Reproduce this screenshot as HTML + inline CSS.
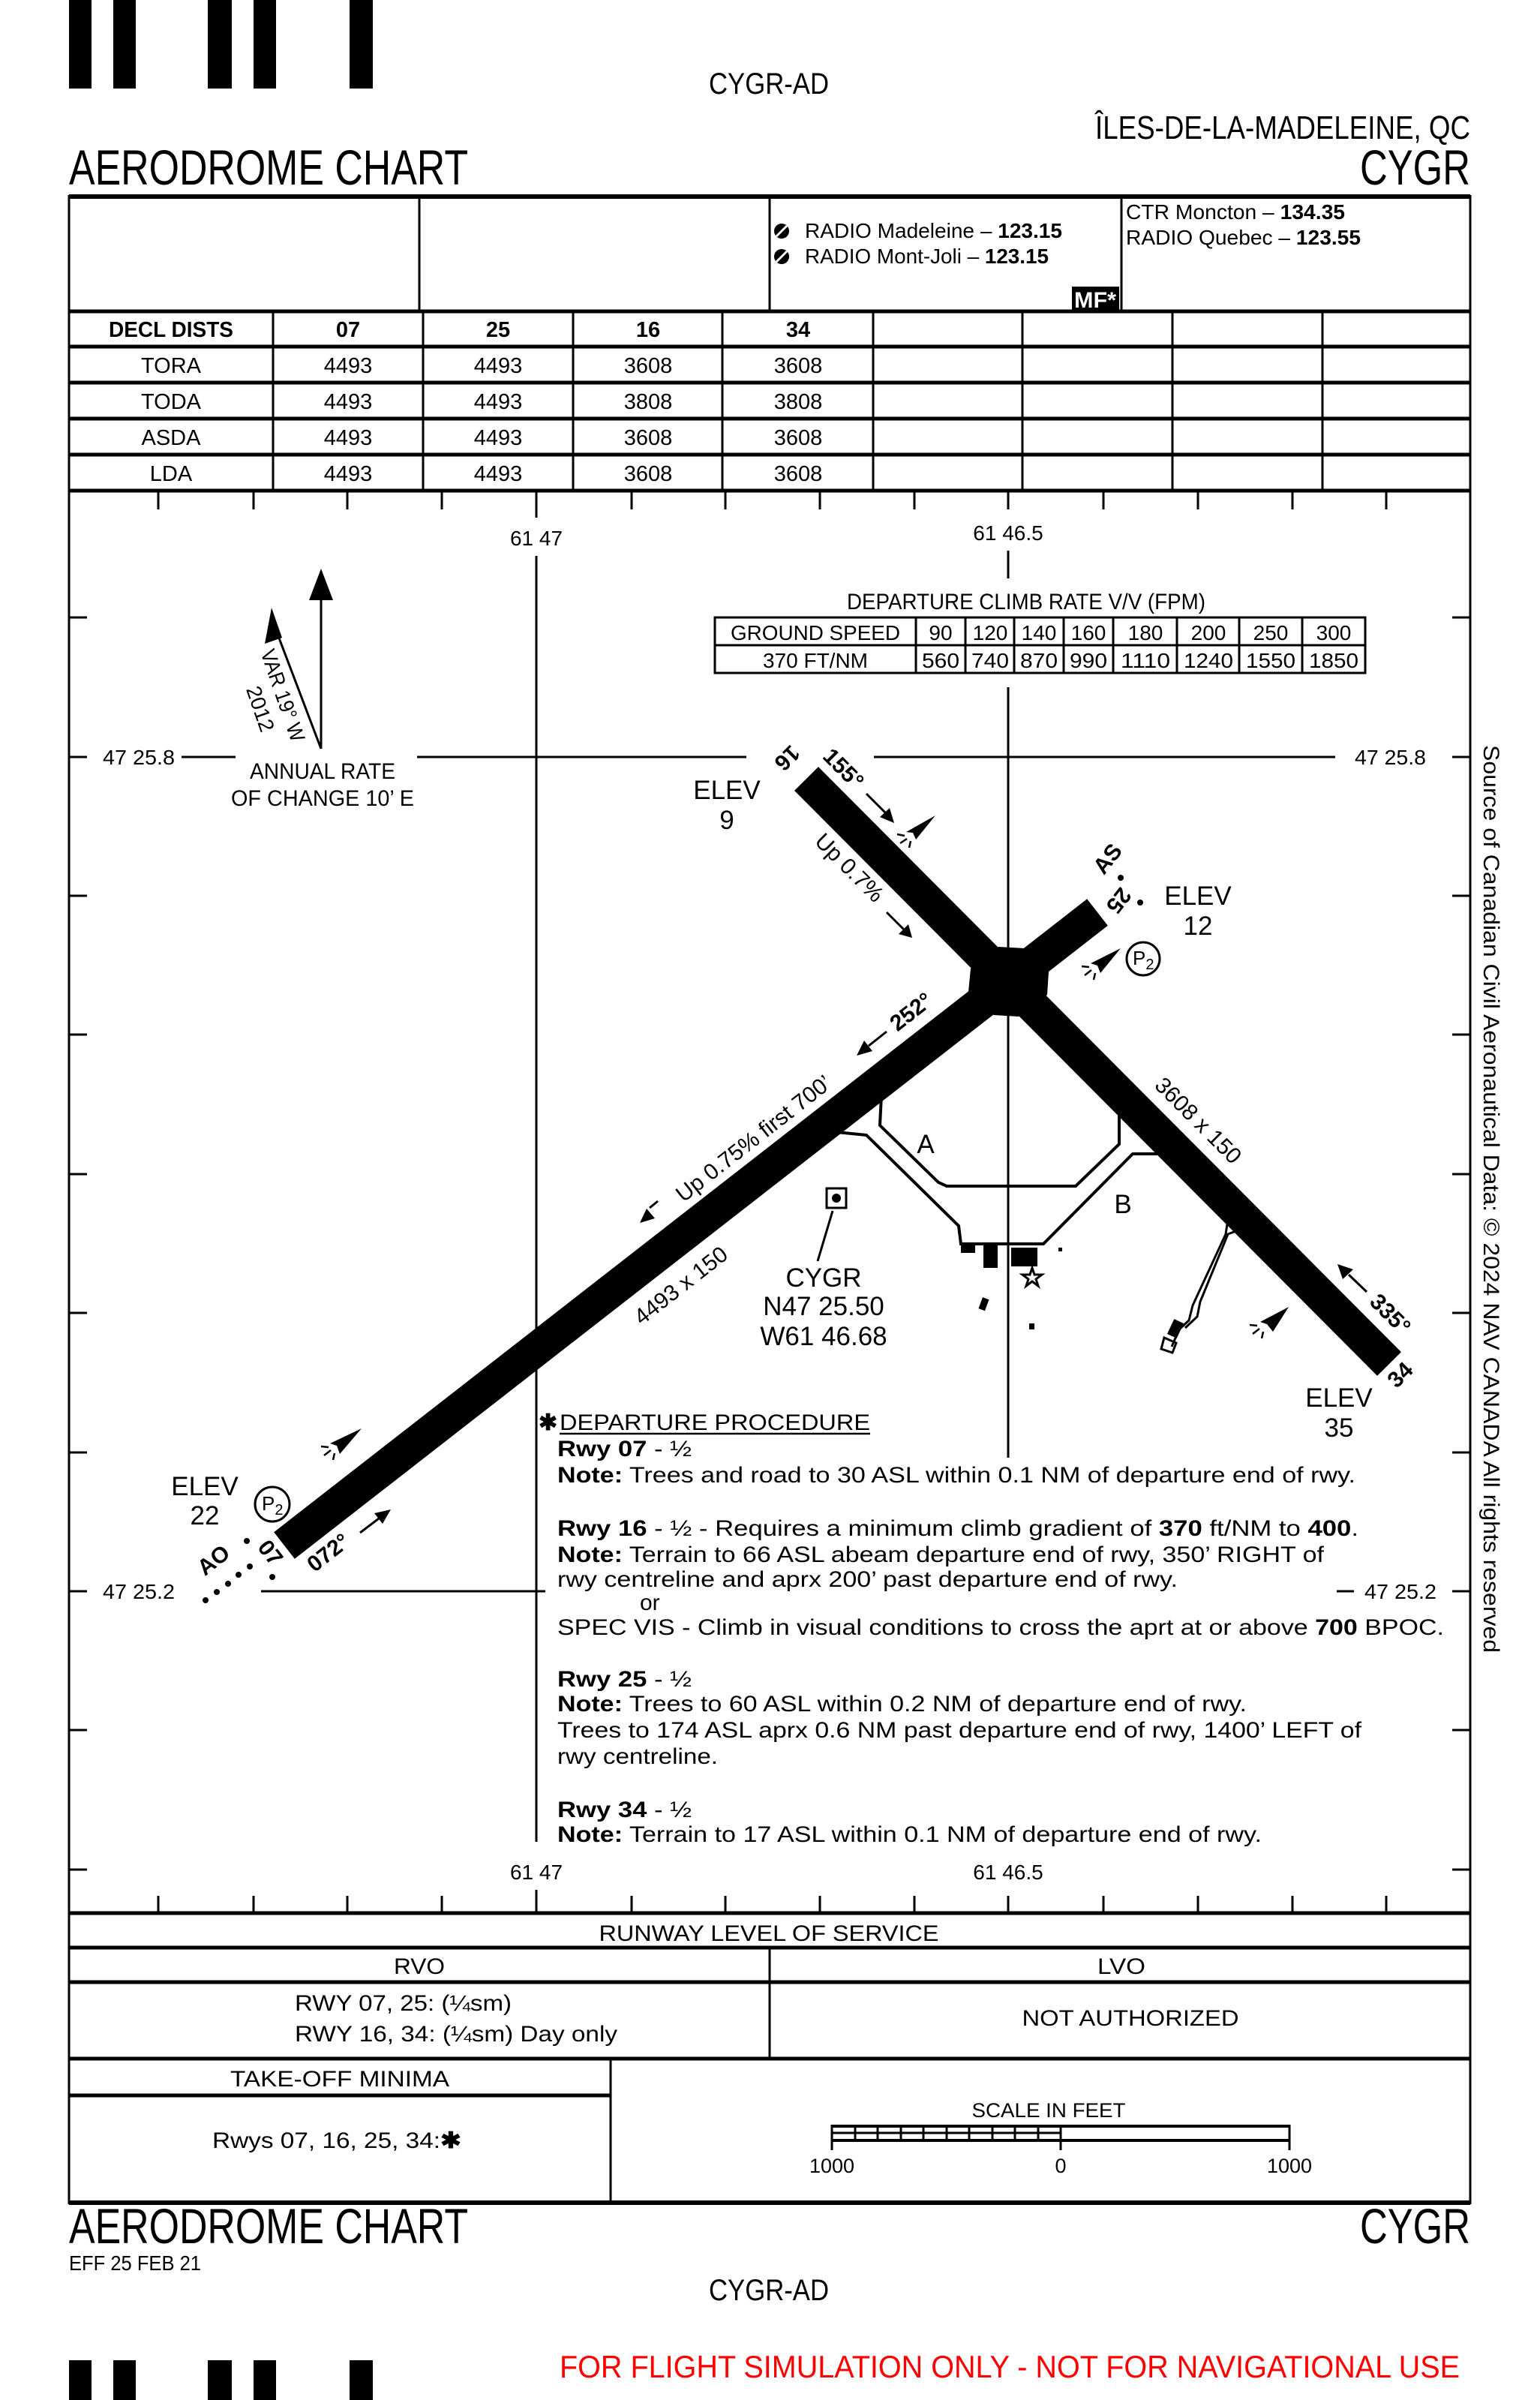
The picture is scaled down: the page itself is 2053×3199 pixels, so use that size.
<!DOCTYPE html>
<html><head><meta charset="utf-8"><style>
html,body{margin:0;padding:0;background:#fff}
svg{display:block}
text{font-family:"Liberation Sans",sans-serif;fill:#000}
.b{font-weight:bold}
</style></head><body>
<svg width="2053" height="3199" viewBox="0 0 2053 3199" xmlns="http://www.w3.org/2000/svg">
<rect width="2053" height="3199" fill="#fff"/>
<g fill="#000">
<rect x="92" y="0" width="30" height="118"/><rect x="151" y="0" width="30" height="118"/>
<rect x="277" y="0" width="32" height="118"/><rect x="338" y="0" width="30" height="118"/>
<rect x="466" y="0" width="31" height="118"/>
<rect x="92" y="3146" width="30" height="53"/><rect x="151" y="3146" width="30" height="53"/>
<rect x="277" y="3146" width="32" height="53"/><rect x="338" y="3146" width="30" height="53"/>
<rect x="466" y="3146" width="31" height="53"/>
</g>
<text x="1025" y="125" font-size="40" text-anchor="middle" textLength="160" lengthAdjust="spacingAndGlyphs">CYGR-AD</text>
<text x="1460" y="185" font-size="44" textLength="500" lengthAdjust="spacingAndGlyphs">ÎLES-DE-LA-MADELEINE, QC</text>
<text x="92" y="246" font-size="66" textLength="532" lengthAdjust="spacingAndGlyphs">AERODROME CHART</text>
<text x="1813" y="246" font-size="66" textLength="147" lengthAdjust="spacingAndGlyphs">CYGR</text>

<g stroke="#000" fill="none">
<line x1="92" y1="262" x2="1960" y2="262" stroke-width="6"/>
<line x1="92" y1="260" x2="92" y2="2938" stroke-width="3"/>
<line x1="1960" y1="260" x2="1960" y2="2938" stroke-width="3"/>
<line x1="559" y1="262" x2="559" y2="414" stroke-width="3"/>
<line x1="1026" y1="262" x2="1026" y2="414" stroke-width="3"/>
<line x1="1495" y1="262" x2="1495" y2="414" stroke-width="3"/>
<line x1="92" y1="415" x2="1960" y2="415" stroke-width="5"/>
<line x1="92" y1="462" x2="1960" y2="462" stroke-width="5"/>
<line x1="92" y1="510" x2="1960" y2="510" stroke-width="5"/>
<line x1="92" y1="558" x2="1960" y2="558" stroke-width="5"/>
<line x1="92" y1="606" x2="1960" y2="606" stroke-width="5"/>
<line x1="92" y1="654" x2="1960" y2="654" stroke-width="5"/>
<g stroke-width="3">
<line x1="364" y1="415" x2="364" y2="654"/><line x1="564" y1="415" x2="564" y2="654"/>
<line x1="764" y1="415" x2="764" y2="654"/><line x1="963" y1="415" x2="963" y2="654"/>
<line x1="1164" y1="415" x2="1164" y2="654"/><line x1="1363" y1="415" x2="1363" y2="654"/>
<line x1="1563" y1="415" x2="1563" y2="654"/><line x1="1763" y1="415" x2="1763" y2="654"/>
</g>
</g>
<g font-size="28">
<circle cx="1042" cy="308" r="10" fill="#000"/><path d="M1035,315 L1049,301" stroke="#fff" stroke-width="3"/>
<circle cx="1042" cy="342" r="10" fill="#000"/><path d="M1035,349 L1049,335" stroke="#fff" stroke-width="3"/>
<text x="1073" y="317" textLength="343" lengthAdjust="spacingAndGlyphs">RADIO Madeleine – <tspan class="b">123.15</tspan></text>
<text x="1073" y="351" textLength="325" lengthAdjust="spacingAndGlyphs">RADIO Mont-Joli – <tspan class="b">123.15</tspan></text>
<text x="1501" y="292" textLength="292" lengthAdjust="spacingAndGlyphs">CTR Moncton – <tspan class="b">134.35</tspan></text>
<text x="1501" y="326" textLength="313" lengthAdjust="spacingAndGlyphs">RADIO Quebec – <tspan class="b">123.55</tspan></text>
</g>
<rect x="1429" y="382" width="63" height="32" fill="#000"/>
<text x="1460" y="410" font-size="30" class="b" text-anchor="middle" style="fill:#fff" textLength="56" lengthAdjust="spacingAndGlyphs">MF*</text>
<g font-size="29" text-anchor="middle">
<text x="228" y="449" class="b" textLength="166" lengthAdjust="spacingAndGlyphs">DECL DISTS</text>
<text x="464" y="449" class="b">07</text><text x="664" y="449" class="b">25</text>
<text x="864" y="449" class="b">16</text><text x="1064" y="449" class="b">34</text>
<text x="228" y="497">TORA</text><text x="464" y="497">4493</text><text x="664" y="497">4493</text><text x="864" y="497">3608</text><text x="1064" y="497">3608</text>
<text x="228" y="545">TODA</text><text x="464" y="545">4493</text><text x="664" y="545">4493</text><text x="864" y="545">3808</text><text x="1064" y="545">3808</text>
<text x="228" y="593">ASDA</text><text x="464" y="593">4493</text><text x="664" y="593">4493</text><text x="864" y="593">3608</text><text x="1064" y="593">3608</text>
<text x="228" y="641">LDA</text><text x="464" y="641">4493</text><text x="664" y="641">4493</text><text x="864" y="641">3608</text><text x="1064" y="641">3608</text>
</g>

<g stroke="#000" stroke-width="3">
<line x1="211" y1="655" x2="211" y2="679"/><line x1="338" y1="655" x2="338" y2="679"/>
<line x1="463" y1="655" x2="463" y2="679"/><line x1="589" y1="655" x2="589" y2="679"/>
<line x1="715" y1="655" x2="715" y2="690"/><line x1="842" y1="655" x2="842" y2="679"/>
<line x1="967" y1="655" x2="967" y2="679"/><line x1="1093" y1="655" x2="1093" y2="679"/>
<line x1="1219" y1="655" x2="1219" y2="679"/><line x1="1344" y1="655" x2="1344" y2="679"/>
<line x1="1471" y1="655" x2="1471" y2="679"/><line x1="1597" y1="655" x2="1597" y2="679"/>
<line x1="1723" y1="655" x2="1723" y2="679"/><line x1="1848" y1="655" x2="1848" y2="679"/>

<line x1="211" y1="2527" x2="211" y2="2550"/><line x1="338" y1="2527" x2="338" y2="2550"/>
<line x1="463" y1="2527" x2="463" y2="2550"/><line x1="589" y1="2527" x2="589" y2="2550"/>
<line x1="715" y1="2519" x2="715" y2="2550"/><line x1="842" y1="2527" x2="842" y2="2550"/>
<line x1="967" y1="2527" x2="967" y2="2550"/><line x1="1093" y1="2527" x2="1093" y2="2550"/>
<line x1="1219" y1="2527" x2="1219" y2="2550"/><line x1="1344" y1="2527" x2="1344" y2="2550"/>
<line x1="1471" y1="2527" x2="1471" y2="2550"/><line x1="1597" y1="2527" x2="1597" y2="2550"/>
<line x1="1723" y1="2527" x2="1723" y2="2550"/><line x1="1848" y1="2527" x2="1848" y2="2550"/>

<line x1="92" y1="823" x2="116" y2="823"/><line x1="92" y1="1009" x2="116" y2="1009"/>
<line x1="92" y1="1194" x2="116" y2="1194"/><line x1="92" y1="1379" x2="116" y2="1379"/>
<line x1="92" y1="1565" x2="116" y2="1565"/><line x1="92" y1="1750" x2="116" y2="1750"/>
<line x1="92" y1="1936" x2="116" y2="1936"/><line x1="92" y1="2121" x2="116" y2="2121"/>
<line x1="92" y1="2306" x2="116" y2="2306"/><line x1="92" y1="2492" x2="116" y2="2492"/>
<line x1="1936" y1="823" x2="1960" y2="823"/><line x1="1936" y1="1009" x2="1960" y2="1009"/>
<line x1="1936" y1="1194" x2="1960" y2="1194"/><line x1="1936" y1="1379" x2="1960" y2="1379"/>
<line x1="1936" y1="1565" x2="1960" y2="1565"/><line x1="1936" y1="1750" x2="1960" y2="1750"/>
<line x1="1936" y1="1936" x2="1960" y2="1936"/><line x1="1936" y1="2121" x2="1960" y2="2121"/>
<line x1="1936" y1="2306" x2="1960" y2="2306"/><line x1="1936" y1="2492" x2="1960" y2="2492"/>

<line x1="715" y1="741" x2="715" y2="2455"/>
<line x1="1344" y1="734" x2="1344" y2="771"/>
<line x1="1344" y1="916" x2="1344" y2="1943"/>
<line x1="242" y1="1009" x2="314" y2="1009"/>
<line x1="556" y1="1009" x2="995" y2="1009"/>
<line x1="1165" y1="1009" x2="1780" y2="1009"/>
<line x1="348" y1="2121" x2="727" y2="2121"/>
<line x1="1782" y1="2121" x2="1805" y2="2121"/>
</g>
<g font-size="28">
<text x="715" y="727" text-anchor="middle">61 47</text>
<text x="1344" y="720" text-anchor="middle">61 46.5</text>
<text x="715" y="2505" text-anchor="middle">61 47</text>
<text x="1344" y="2505" text-anchor="middle">61 46.5</text>
<text x="137" y="1019" textLength="96" lengthAdjust="spacingAndGlyphs">47 25.8</text>
<text x="1806" y="1019" textLength="95" lengthAdjust="spacingAndGlyphs">47 25.8</text>
<text x="137" y="2131" textLength="96" lengthAdjust="spacingAndGlyphs">47 25.2</text>
<text x="1819" y="2131" textLength="96" lengthAdjust="spacingAndGlyphs">47 25.2</text>
</g>
<text transform="translate(1978,1598) rotate(90)" font-size="30" text-anchor="middle" textLength="1210" lengthAdjust="spacingAndGlyphs">Source of Canadian Civil Aeronautical Data: © 2024 NAV CANADA All rights reserved</text>

<g stroke="#000" stroke-width="3">
<line x1="428" y1="795" x2="428" y2="998"/>
<line x1="428" y1="998" x2="368" y2="840"/>
</g>
<polygon points="428,758 412,800 444,800" fill="#000"/>
<polygon points="362,810 353,858 376,850" fill="#000"/>
<text transform="translate(368,930) rotate(71)" font-size="28" text-anchor="middle" textLength="128" lengthAdjust="spacingAndGlyphs">VAR 19° W</text>
<text transform="translate(338,948) rotate(71)" font-size="28" text-anchor="middle">2012</text>
<text x="430" y="1038" font-size="30" text-anchor="middle" textLength="194" lengthAdjust="spacingAndGlyphs">ANNUAL RATE</text>
<text x="430" y="1074" font-size="30" text-anchor="middle" textLength="244" lengthAdjust="spacingAndGlyphs">OF CHANGE 10’ E</text>

<text x="1368" y="812" font-size="30" text-anchor="middle" textLength="478" lengthAdjust="spacingAndGlyphs">DEPARTURE CLIMB RATE V/V (FPM)</text>
<g stroke="#000" stroke-width="3" fill="none">
<rect x="953" y="823" width="867" height="74"/>
<line x1="953" y1="860" x2="1820" y2="860"/>
<line x1="1221" y1="823" x2="1221" y2="897"/><line x1="1287" y1="823" x2="1287" y2="897"/>
<line x1="1352" y1="823" x2="1352" y2="897"/><line x1="1418" y1="823" x2="1418" y2="897"/>
<line x1="1484" y1="823" x2="1484" y2="897"/><line x1="1569" y1="823" x2="1569" y2="897"/>
<line x1="1652" y1="823" x2="1652" y2="897"/><line x1="1736" y1="823" x2="1736" y2="897"/>
</g>
<g font-size="28" text-anchor="middle">
<text x="1087" y="853" textLength="226" lengthAdjust="spacingAndGlyphs">GROUND SPEED</text>
<text x="1254" y="853">90</text><text x="1320" y="853">120</text><text x="1385" y="853">140</text><text x="1451" y="853">160</text>
<text x="1527" y="853">180</text><text x="1611" y="853">200</text><text x="1694" y="853">250</text><text x="1778" y="853">300</text>
<text x="1087" y="890" textLength="140" lengthAdjust="spacingAndGlyphs">370 FT/NM</text>
<text x="1254" y="890" textLength="50" lengthAdjust="spacingAndGlyphs">560</text><text x="1320" y="890" textLength="50" lengthAdjust="spacingAndGlyphs">740</text><text x="1385" y="890" textLength="50" lengthAdjust="spacingAndGlyphs">870</text><text x="1451" y="890" textLength="50" lengthAdjust="spacingAndGlyphs">990</text>
<text x="1527" y="890" textLength="66" lengthAdjust="spacingAndGlyphs">1110</text><text x="1611" y="890" textLength="66" lengthAdjust="spacingAndGlyphs">1240</text><text x="1694" y="890" textLength="66" lengthAdjust="spacingAndGlyphs">1550</text><text x="1778" y="890" textLength="66" lengthAdjust="spacingAndGlyphs">1850</text>
</g>

<g stroke="#000" stroke-width="4" fill="none" stroke-linejoin="miter">
<polyline points="1175,1460 1173,1500 1251,1576 1262,1581 1434,1581 1492,1525 1492,1485"/>
<polyline points="1115,1509 1155,1513 1278,1634 1281,1658 1391,1658 1510,1538 1550,1538"/>
<polyline points="1637,1625 1634,1645 1590,1740 1585,1760 1572,1772 1562,1795" stroke-width="3"/>
<polyline points="1650,1640 1637,1645 1600,1735 1596,1755 1580,1770" stroke-width="3"/>
<polygon points="1552,1783 1568,1790 1563,1803 1548,1798" stroke-width="3"/>
</g>
<rect x="1560" y="1760" width="14" height="22" fill="#000" transform="rotate(25 1567 1771)"/>
<g stroke="#000" stroke-width="45" stroke-linecap="butt">
<line x1="379" y1="2060" x2="1463" y2="1216"/>
<line x1="1075" y1="1038" x2="1852" y2="1818"/>
</g>
<polygon points="1331,1262 1366,1264 1398,1295 1396,1326 1358,1355 1325,1353 1291,1322 1294,1291" fill="#000"/>
<g fill="#000">
<rect x="1281" y="1657" width="19" height="13"/>
<rect x="1311" y="1659" width="19" height="31"/>
<rect x="1348" y="1663" width="35" height="25"/>
<rect x="1411" y="1663" width="5" height="5"/>
<rect x="1307" y="1730" width="9" height="16" transform="rotate(20 1311 1738)"/>
<rect x="1372" y="1764" width="7" height="8"/>
</g>
<polygon points="1376,1690 1379,1699 1389,1699 1381,1705 1384,1714 1376,1708 1368,1714 1371,1705 1363,1699 1373,1699" fill="#fff" stroke="#000" stroke-width="3"/>
<rect x="1102" y="1584" width="26" height="26" fill="#fff" stroke="#000" stroke-width="3"/>
<circle cx="1115" cy="1597" r="6" fill="#000"/>
<line x1="1110" y1="1614" x2="1090" y2="1681" stroke="#000" stroke-width="3"/>
<g font-size="35" text-anchor="middle">
<text x="1098" y="1715">CYGR</text>
<text x="1098" y="1753">N47 25.50</text>
<text x="1098" y="1793">W61 46.68</text>
<text x="1234" y="1537">A</text>
<text x="1497" y="1617">B</text>
<text x="969" y="1065">ELEV</text><text x="969" y="1105">9</text>
<text x="1597" y="1206">ELEV</text><text x="1597" y="1246">12</text>
<text x="1785" y="1875">ELEV</text><text x="1785" y="1915">35</text>
<text x="273" y="1993">ELEV</text><text x="273" y="2032">22</text>
</g>
<g fill="none" stroke="#000" stroke-width="3"><circle cx="1524" cy="1278" r="22"/><circle cx="363" cy="2005" r="23"/></g>
<text x="1510" y="1286" font-size="26">P<tspan font-size="20" dy="6">2</tspan></text>
<text x="349" y="2013" font-size="26">P<tspan font-size="20" dy="6">2</tspan></text>
<g fill="#000">
<polygon points="1247,1087 1208,1109 1217,1110 1221,1119"/>
<polygon points="1494,1264 1454,1284 1463,1287 1467,1297"/>
<polygon points="482,1904 440,1924 449,1927 453,1938"/>
<polygon points="1718,1742 1680,1762 1689,1765 1697,1775"/>
</g>
<g stroke="#000" stroke-width="2.5">
<path d="M1196,1112 L1206,1114 M1200,1124 L1209,1118 M1212,1130 L1214,1121"/>
<path d="M1442,1288 L1452,1289 M1446,1300 L1455,1293 M1458,1306 L1460,1297"/>
<path d="M428,1928 L438,1929 M432,1940 L441,1933 M444,1946 L446,1937"/>
<path d="M1666,1766 L1676,1767 M1670,1778 L1679,1771 M1682,1784 L1684,1775"/>
</g>
<g stroke="#000" stroke-width="3">
<line x1="1155" y1="1058" x2="1180" y2="1083"/>
<line x1="1182" y1="1216" x2="1205" y2="1239"/>
<line x1="1182" y1="1375" x2="1158" y2="1394"/>
<line x1="877" y1="1601" x2="866" y2="1610"/>
<line x1="480" y1="2043" x2="505" y2="2024"/>
<line x1="1822" y1="1722" x2="1798" y2="1699"/>
</g>
<g fill="#000">
<polygon points="1192,1097 1173,1089 1186,1077"/>
<polygon points="1216,1250 1198,1245 1211,1232"/>
<polygon points="1142,1407 1152,1387 1163,1401"/>
<polygon points="853,1630 862,1611 873,1624"/>
<polygon points="521,2012 499,2017 510,2031"/>
<polygon points="1783,1685 1804,1692 1790,1705"/>
</g>
<g font-size="30" class="b" text-anchor="middle" dominant-baseline="central">
<text class="b" transform="translate(1049,1010) rotate(135)">16</text>
<text class="b" transform="translate(1124,1025) rotate(45)">155°</text>
<text class="b" transform="translate(1867,1833) rotate(-45)">34</text>
<text class="b" transform="translate(1853,1752) rotate(45)">335°</text>
<text class="b" transform="translate(1477,1145) rotate(-52)">AS</text>
<text class="b" transform="translate(1491,1200) rotate(128)">25</text>
<text class="b" transform="translate(1215,1349) rotate(-38)">252°</text>
<text class="b" transform="translate(360,2070) rotate(52)">07</text>
<text class="b" transform="translate(285,2080) rotate(-38)">AO</text>
<text class="b" transform="translate(438,2070) rotate(-38)">072°</text>
</g>
<g fill="#000">
<circle cx="1494" cy="1170" r="4"/><circle cx="1520" cy="1203" r="4"/>
<circle cx="274" cy="2133" r="4"/><circle cx="289" cy="2122" r="4"/><circle cx="304" cy="2111" r="4"/>
<circle cx="318" cy="2099" r="4"/><circle cx="333" cy="2088" r="4"/><circle cx="329" cy="2054" r="4"/><circle cx="363" cy="2102" r="4"/>
</g>
<g font-size="30" text-anchor="middle" dominant-baseline="central">
<text transform="translate(1132,1157) rotate(45)">Up 0.7%</text>
<text transform="translate(1597,1494) rotate(45)">3608 x 150</text>
<text transform="translate(1005,1518) rotate(-38)">Up 0.75% first 700’</text>
<text transform="translate(908,1714) rotate(-38)">4493 x 150</text>
</g>

<g font-size="30">
<text x="718" y="1906" class="b">✱</text>
<text x="746" y="1906" textLength="414" lengthAdjust="spacingAndGlyphs">DEPARTURE PROCEDURE</text>
<line x1="746" y1="1911" x2="1160" y2="1911" stroke="#000" stroke-width="2.5"/>
<text x="743" y="1941" textLength="179" lengthAdjust="spacingAndGlyphs"><tspan class="b">Rwy 07</tspan> - ½</text>
<text x="743" y="1976" textLength="1064" lengthAdjust="spacingAndGlyphs"><tspan class="b">Note:</tspan> Trees and road to 30 ASL within 0.1 NM of departure end of rwy.</text>
<text x="743" y="2047" textLength="1068" lengthAdjust="spacingAndGlyphs"><tspan class="b">Rwy 16</tspan> - ½ - Requires a minimum climb gradient of <tspan class="b">370</tspan> ft/NM to  <tspan class="b">400</tspan>.</text>
<text x="743" y="2082" textLength="1022" lengthAdjust="spacingAndGlyphs"><tspan class="b">Note:</tspan> Terrain to 66 ASL abeam departure end of rwy, 350’ RIGHT of</text>
<text x="743" y="2115" textLength="827" lengthAdjust="spacingAndGlyphs">rwy centreline and aprx 200’ past departure end of rwy.</text>
<text x="853" y="2146">or</text>
<text x="743" y="2179" textLength="1182" lengthAdjust="spacingAndGlyphs">SPEC VIS - Climb in visual conditions to cross the aprt at or above  <tspan class="b">700</tspan> BPOC.</text>
<text x="743" y="2248" textLength="179" lengthAdjust="spacingAndGlyphs"><tspan class="b">Rwy 25</tspan> - ½</text>
<text x="743" y="2281" textLength="919" lengthAdjust="spacingAndGlyphs"><tspan class="b">Note:</tspan> Trees to 60 ASL within 0.2 NM of departure end of rwy.</text>
<text x="743" y="2316" textLength="1072" lengthAdjust="spacingAndGlyphs">Trees to 174 ASL aprx 0.6 NM past departure end of rwy, 1400’ LEFT of</text>
<text x="743" y="2351" textLength="214" lengthAdjust="spacingAndGlyphs">rwy centreline.</text>
<text x="743" y="2422" textLength="179" lengthAdjust="spacingAndGlyphs"><tspan class="b">Rwy 34</tspan> - ½</text>
<text x="743" y="2455" textLength="939" lengthAdjust="spacingAndGlyphs"><tspan class="b">Note:</tspan> Terrain to 17 ASL within 0.1 NM of departure end of rwy.</text>
</g>

<g stroke="#000" fill="none">
<line x1="92" y1="2550" x2="1960" y2="2550" stroke-width="5"/>
<line x1="92" y1="2596" x2="1960" y2="2596" stroke-width="5"/>
<line x1="92" y1="2642" x2="1960" y2="2642" stroke-width="5"/>
<line x1="1026" y1="2596" x2="1026" y2="2744" stroke-width="3"/>
<line x1="92" y1="2744" x2="1960" y2="2744" stroke-width="5"/>
<line x1="92" y1="2793" x2="814" y2="2793" stroke-width="5"/>
<line x1="814" y1="2744" x2="814" y2="2936" stroke-width="3"/>
<line x1="92" y1="2936" x2="1960" y2="2936" stroke-width="6"/>
</g>
<g font-size="30" text-anchor="middle">
<text x="1025" y="2587" textLength="453" lengthAdjust="spacingAndGlyphs">RUNWAY LEVEL OF SERVICE</text>
<text x="559" y="2631" textLength="68" lengthAdjust="spacingAndGlyphs">RVO</text>
<text x="1495" y="2631" textLength="64" lengthAdjust="spacingAndGlyphs">LVO</text>
<text x="1507" y="2700" textLength="289" lengthAdjust="spacingAndGlyphs">NOT AUTHORIZED</text>
<text x="453" y="2781" textLength="292" lengthAdjust="spacingAndGlyphs">TAKE-OFF MINIMA</text>
<text x="1398" y="2822" font-size="27" textLength="205" lengthAdjust="spacingAndGlyphs">SCALE IN FEET</text>
<text x="1109" y="2896" font-size="27">1000</text>
<text x="1414" y="2896" font-size="27">0</text>
<text x="1719" y="2896" font-size="27">1000</text>
</g>
<g font-size="30">
<text x="393" y="2680" textLength="289" lengthAdjust="spacingAndGlyphs">RWY 07, 25: (¼sm)</text>
<text x="393" y="2721" textLength="430" lengthAdjust="spacingAndGlyphs">RWY 16, 34: (¼sm) Day only</text>
<text x="283" y="2863" textLength="332" lengthAdjust="spacingAndGlyphs">Rwys 07, 16, 25, 34:<tspan class="b">✱</tspan></text>
</g>
<g stroke="#000" fill="none">
<line x1="1109" y1="2834" x2="1719" y2="2834" stroke-width="4"/>
<line x1="1109" y1="2853" x2="1719" y2="2853" stroke-width="4"/>
<line x1="1109" y1="2832" x2="1109" y2="2866" stroke-width="3"/>
<line x1="1414" y1="2832" x2="1414" y2="2866" stroke-width="3"/>
<line x1="1719" y1="2832" x2="1719" y2="2866" stroke-width="3"/>
<line x1="1109" y1="2843" x2="1414" y2="2843" stroke-width="3"/>
<g stroke-width="3">
<line x1="1140" y1="2834" x2="1140" y2="2853"/><line x1="1170" y1="2834" x2="1170" y2="2853"/>
<line x1="1201" y1="2834" x2="1201" y2="2853"/><line x1="1231" y1="2834" x2="1231" y2="2853"/>
<line x1="1262" y1="2834" x2="1262" y2="2853"/><line x1="1292" y1="2834" x2="1292" y2="2853"/>
<line x1="1323" y1="2834" x2="1323" y2="2853"/><line x1="1353" y1="2834" x2="1353" y2="2853"/>
<line x1="1384" y1="2834" x2="1384" y2="2853"/>
</g>
</g>
<text x="92" y="2990" font-size="66" textLength="532" lengthAdjust="spacingAndGlyphs">AERODROME CHART</text>
<text x="1813" y="2990" font-size="66" textLength="147" lengthAdjust="spacingAndGlyphs">CYGR</text>
<text x="92" y="3026" font-size="28" textLength="176" lengthAdjust="spacingAndGlyphs">EFF 25 FEB 21</text>
<text x="1025" y="3066" font-size="40" text-anchor="middle" textLength="160" lengthAdjust="spacingAndGlyphs">CYGR-AD</text>
<text x="746" y="3169" font-size="42" style="fill:#ff0000" textLength="1200" lengthAdjust="spacingAndGlyphs">FOR FLIGHT SIMULATION ONLY - NOT FOR NAVIGATIONAL USE</text>
</svg>
</body></html>
